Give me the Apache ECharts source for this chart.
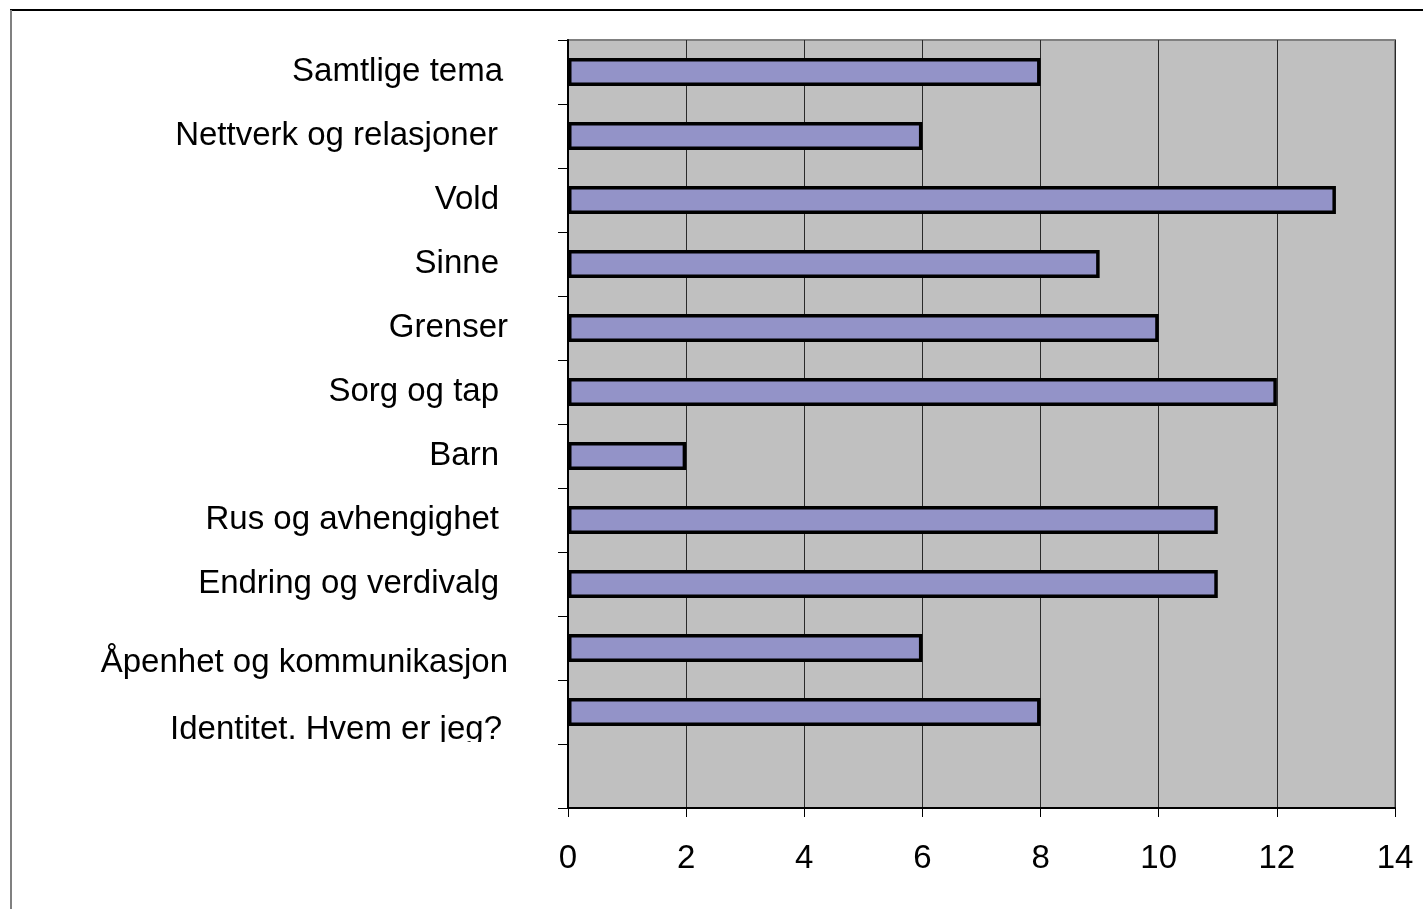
<!DOCTYPE html>
<html>
<head>
<meta charset="utf-8">
<script src="https://cdn.jsdelivr.net/npm/echarts@6/dist/echarts.min.js"></script>
<style>
  html, body { margin: 0; padding: 0; background: #fff; }
  #chart { width: 1423px; height: 909px; }
</style>
</head>
<body>
<div id="chart"></div>
<script>
  // categories top to bottom (last slot is empty in the original)
  const categories = [
    'Samtlige tema',
    'Nettverk og relasjoner',
    'Vold',
    'Sinne',
    'Grenser',
    'Sorg og tap',
    'Barn',
    'Rus og avhengighet',
    'Endring og verdivalg',
    'Åpenhet og kommunikasjon',
    'Identitet. Hvem er jeg?',
    ''
  ];
  const values = [8, 6, 13, 9, 10, 12, 2, 11, 11, 6, 8, null];
  const xTicks = [0, 2, 4, 6, 8, 10, 12, 14];

  // small per-label nudges, the labels are not lined up evenly in the source
  const labelStyle = [
    { padding: [0, 5, 0, 0] },
    { padding: [0, 10, 0, 0] },
    { padding: [0, 9, 0, 0] },
    { padding: [0, 9, 0, 0] },
    { padding: [0, 0, 0, 0] },
    { padding: [0, 9, 0, 0] },
    { padding: [0, 9, 0, 0] },
    { padding: [0, 9, 0, 0] },
    { padding: [0, 9, 0, 0] },
    { padding: [0, 0, 0, 0], verticalAlign: 'top', lineHeight: 30 },
    { padding: [0, 6, 0, 0], verticalAlign: 'top', lineHeight: 36 },
    {}
  ];

  const font = '"Liberation Sans", Arial, sans-serif';

  const chart = echarts.init(document.getElementById('chart'));
  const option = {
    animation: false,
    backgroundColor: '#fff',
    graphic: [
      { type: 'line', shape: { x1: 10, y1: 10, x2: 1423, y2: 10 }, style: { stroke: '#000', lineWidth: 2 } },
      { type: 'line', shape: { x1: 11, y1: 10, x2: 11, y2: 909 }, style: { stroke: '#808080', lineWidth: 2 } },
      // the last label is cut off at the bottom in the source
      { type: 'rect', z: 100, shape: { x: 120, y: 742, width: 420, height: 20 }, style: { fill: '#fff' } }
    ],
    grid: {
      show: true,
      left: 568,
      right: 28,
      top: 40,
      bottom: 101,
      backgroundColor: '#C0C0C0',
      borderColor: '#808080',
      borderWidth: 2
    },
    xAxis: {
      type: 'value',
      min: 0,
      max: 14,
      interval: 2,
      axisLine: { show: true, lineStyle: { color: '#000', width: 2 } },
      axisTick: { show: true, length: 9, lineStyle: { color: '#000', width: 1 } },
      axisLabel: {
        margin: 34,
        fontSize: 33,
        fontFamily: font,
        color: '#000',
        formatter: v => (xTicks.indexOf(v) >= 0 ? String(v) : '')
      },
      splitLine: { show: true, lineStyle: { color: '#2a2a2a', width: 1 } }
    },
    yAxis: {
      type: 'category',
      inverse: true,
      data: categories.map((c, i) => ({ value: c, textStyle: labelStyle[i] })),
      axisLine: { show: true, lineStyle: { color: '#000', width: 2 } },
      axisTick: { show: true, length: 10, alignWithLabel: false, lineStyle: { color: '#000', width: 1 } },
      axisLabel: {
        margin: 60,
        fontSize: 33,
        fontFamily: font,
        color: '#000',
        interval: 0
      },
      splitLine: { show: false }
    },
    series: [
      {
        type: 'bar',
        data: values,
        barWidth: 28,
        itemStyle: {
          color: '#9393C8',
          borderColor: '#000',
          borderWidth: 3.5
        }
      }
    ]
  };
  chart.setOption(option);
</script>
</body>
</html>
